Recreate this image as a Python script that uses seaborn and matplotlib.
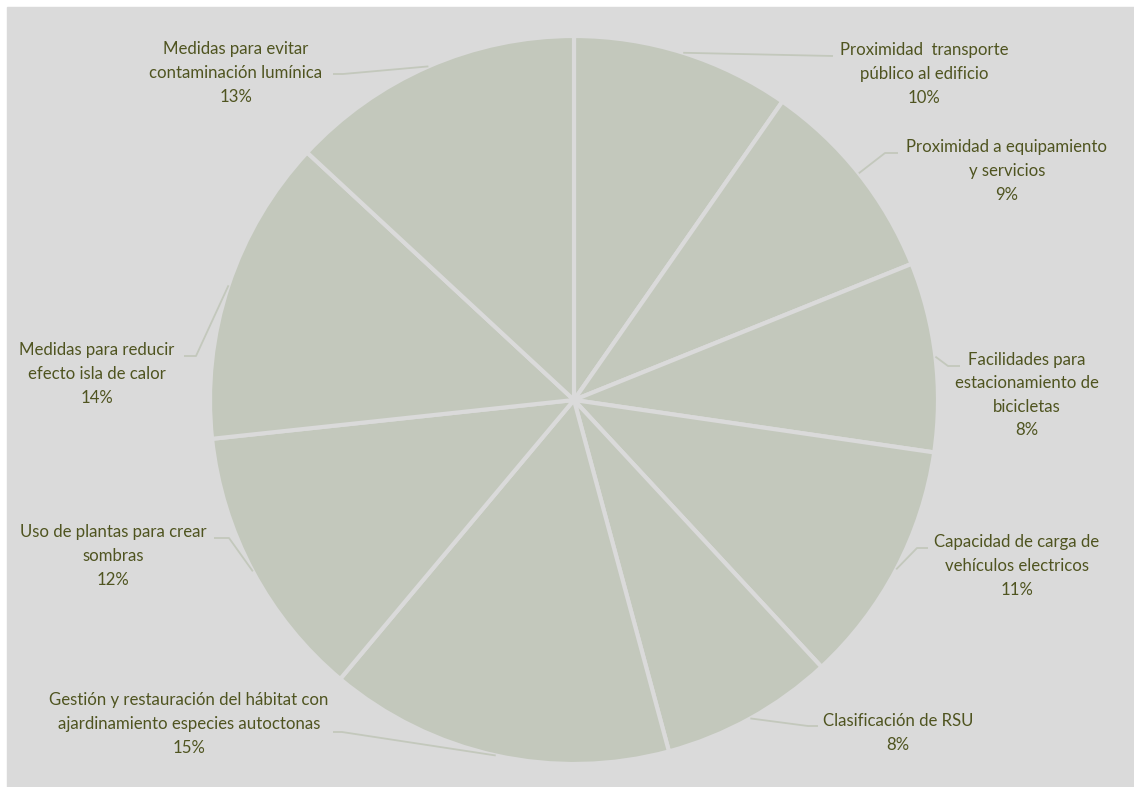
import numpy as np
import matplotlib
matplotlib.use("Agg")
import matplotlib.pyplot as plt
from matplotlib.patches import Rectangle
import seaborn as sns

# ---------------- data ----------------
categories = [
    "Proximidad  transporte\npúblico al edificio",
    "Proximidad a equipamiento\ny servicios",
    "Facilidades para\nestacionamiento de\nbicicletas",
    "Capacidad de carga de\nvehículos electricos",
    "Clasificación de RSU",
    "Gestión y restauración del hábitat con\najardinamiento especies autoctonas",
    "Uso de plantas para crear\nsombras",
    "Medidas para reducir\nefecto isla de calor",
    "Medidas para evitar\ncontaminación lumínica",
]
values = [9.7, 9.2, 8.4, 10.8, 7.7, 15.3, 12.2, 13.6, 13.1]

# ---------------- style ----------------
sns.set_theme(style="white")
plt.rcParams['font.family'] = ['Lato', 'DejaVu Sans']

W, H = 1134, 787
BG = "#dadada"
WEDGE = "#c3c8bc"
TEXT = "#4f5420"
LEADER = "#c3c8bc"

fig = plt.figure(figsize=(W / 100, H / 100), dpi=100, facecolor="white")
ax = fig.add_axes([0, 0, 1, 1])
ax.set_facecolor("none")
ax.add_patch(Rectangle((7 / W, 0), 1 - 7 / W, 1 - 7 / H,
                       transform=ax.transAxes, color=BG, zorder=-5))

# pie geometry (pixels)
cx, cy, R = 574, 400, 364

def px(x, y):
    return ((x - cx) / R, (cy - y) / R)

wedges, _ = ax.pie(values, startangle=90, counterclock=False,
                   colors=[WEDGE] * len(values), radius=1,
                   wedgeprops=dict(edgecolor=BG, linewidth=3))
ax.set_xlim(-cx / R, (W - cx) / R)
ax.set_ylim(-(H - cy) / R, cy / R)
ax.axis("off")

# label layout in pixels: (text centre x, block centre y, elbow, end)
layout = [
    (924, 74, None, (833, 56)),
    (1007, 171, (885, 153), (898, 153)),
    (1027, 395, (948, 366), (960, 366)),
    (1017, 566, (917, 548), (928, 548)),
    (898, 733, (808, 726), (818, 726)),
    (189, 724, (342, 732), (333, 732)),
    (113, 556, (229, 538), (214, 538)),
    (97, 374, (196, 356), (184, 356)),
    (236, 73, (343, 74), (333, 74)),
]

total = sum(values)
for w, cat, v, (tx, ty, elbow, end) in zip(wedges, categories, values, layout):
    mid = np.deg2rad((w.theta1 + w.theta2) / 2)
    pts = [(np.cos(mid), np.sin(mid))]
    if elbow is not None:
        pts.append(px(*elbow))
    pts.append(px(*end))
    xs, ys = zip(*pts)
    ax.plot(xs, ys, color=LEADER, lw=1.3, solid_capstyle="butt", zorder=1)
    pct = f"{round(v / total * 100):.0f}%"
    x, y = px(tx, ty)
    ax.text(x, y, f"{cat}\n{pct}", ha="center", va="center",
            multialignment="center", fontsize=12.1, color=TEXT,
            linespacing=1.58)

fig.savefig("out.png", dpi=100, facecolor="white")
